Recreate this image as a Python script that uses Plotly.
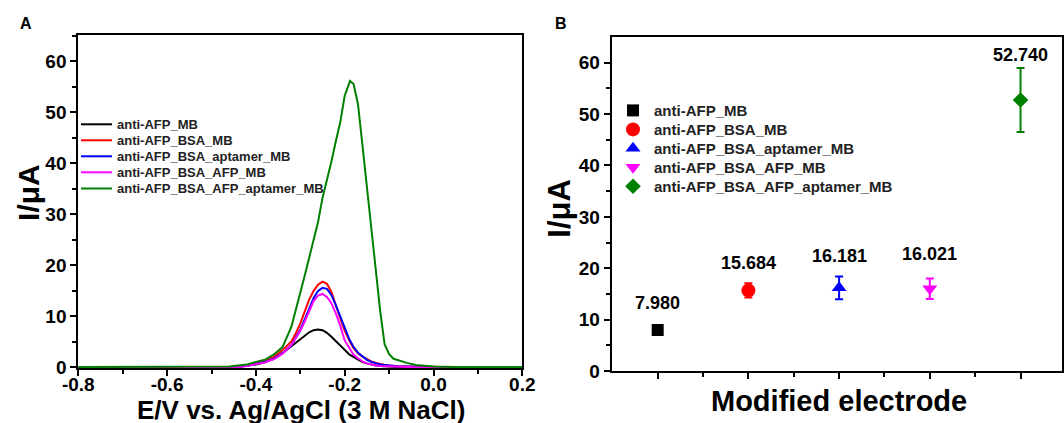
import plotly.graph_objects as go

# ---------------- data: panel A (DPV curves) ----------------
potential_V = [-0.80, -0.70, -0.60, -0.50, -0.46, -0.44, -0.42, -0.40, -0.38, -0.36,
               -0.34, -0.32, -0.31, -0.30, -0.29, -0.28, -0.27, -0.26, -0.25, -0.24,
               -0.23, -0.22, -0.21, -0.20, -0.19, -0.188, -0.18, -0.17, -0.16, -0.15,
               -0.14, -0.13, -0.12, -0.11, -0.10, -0.09, -0.08, -0.06, -0.04, -0.02,
               0.00, 0.05, 0.10, 0.15, 0.20]

i_anti_AFP_MB = [0.0, 0.0, 0.0, 0.0, 0.05, 0.15, 0.35, 0.6, 1.0, 1.8,
                 2.8, 4.2, 4.9, 5.6, 6.3, 6.9, 7.3, 7.45, 7.3, 6.8,
                 6.0, 5.1, 4.2, 3.3, 2.6, 2.45, 2.0, 1.45, 1.05, 0.8,
                 0.55, 0.4, 0.3, 0.22, 0.17, 0.12, 0.1, 0.07, 0.05, 0.05,
                 0.05, 0.05, 0.05, 0.05, 0.05]

i_anti_AFP_BSA_MB = [0.0, 0.0, 0.0, 0.0, 0.05, 0.15, 0.45, 0.8, 1.3, 2.0,
                     3.4, 5.1, 6.7, 8.6, 11.0, 13.3, 15.0, 16.2, 16.8, 16.4,
                     14.8, 12.0, 9.6, 7.2, 5.3, 5.0, 3.8, 2.8, 2.1, 1.6,
                     1.2, 0.9, 0.67, 0.5, 0.4, 0.3, 0.25, 0.2, 0.15, 0.1,
                     0.1, 0.05, 0.05, 0.05, 0.05]

i_anti_AFP_BSA_aptamer_MB = [0.0, 0.0, 0.0, 0.0, 0.03, 0.1, 0.35, 0.7, 1.1, 1.7,
                             2.8, 4.4, 5.8, 7.4, 9.4, 11.6, 13.6, 15.0, 15.6, 15.4,
                             14.2, 12.2, 9.9, 7.6, 5.6, 5.3, 4.0, 2.9, 2.1, 1.5,
                             1.1, 0.8, 0.6, 0.5, 0.4, 0.3, 0.25, 0.2, 0.15, 0.1,
                             0.1, 0.05, 0.05, 0.05, 0.05]

i_anti_AFP_BSA_AFP_MB = [0.0, 0.0, 0.0, 0.0, 0.03, 0.1, 0.3, 0.6, 1.0, 1.6,
                         2.7, 4.4, 5.7, 7.2, 9.0, 11.2, 13.0, 14.1, 14.4, 13.8,
                         12.6, 10.6, 8.2, 5.3, 3.8, 3.5, 2.5, 1.8, 1.2, 0.8,
                         0.55, 0.4, 0.3, 0.25, 0.2, 0.15, 0.1, 0.1, 0.05, 0.05,
                         0.05, 0.05, 0.05, 0.05, 0.05]

i_anti_AFP_BSA_AFP_aptamer_MB = [0.1, 0.1, 0.1, 0.1, 0.2, 0.4, 0.6, 1.1, 1.5, 2.5,
                                 4.0, 8.0, 11.2, 14.8, 18.0, 21.5, 25.1, 28.5, 33.2, 36.6,
                                 40.3, 44.3, 48.0, 53.2, 55.7, 56.1, 55.5, 51.5, 43.5, 35.2,
                                 26.8, 19.3, 11.0, 4.5, 2.6, 1.7, 1.4, 0.9, 0.5, 0.35,
                                 0.2, 0.1, 0.1, 0.1, 0.1]

series_names = ["anti-AFP_MB", "anti-AFP_BSA_MB", "anti-AFP_BSA_aptamer_MB",
                "anti-AFP_BSA_AFP_MB", "anti-AFP_BSA_AFP_aptamer_MB"]
curves = [i_anti_AFP_MB, i_anti_AFP_BSA_MB, i_anti_AFP_BSA_aptamer_MB,
          i_anti_AFP_BSA_AFP_MB, i_anti_AFP_BSA_AFP_aptamer_MB]

xA_tickvals = [-0.8, -0.6, -0.4, -0.2, 0.0, 0.2]
xA_ticktext = ["-0.8", "-0.6", "-0.4", "-0.2", "0.0", "0.2"]

# ---------------- data: panel B (peak currents) ----------------
peak_current = [7.980, 15.684, 16.181, 16.021, 52.740]
peak_error = [0.5, 1.4, 2.2, 2.0, 6.25]

# ---------------- styles ----------------
colors = ["#000000", "#FF0000", "#0000FF", "#FF00FF", "#008000"]
symbols = ["square", "circle", "triangle-up", "triangle-down", "diamond"]
marker_sizes = [12, 14, 13, 13, 12]
label_gap = [4.8, 3.9, 4.0, 4.7, 2.6]

FONT = "Liberation Sans, Arial, sans-serif"
W, H = 1064, 423

# legend layout (pixel positions in the page)
legA_rows = [124.3, 140.3, 156.3, 172.3, 188.5]
legA_line = (81.0, 112.0)
legA_text_x = 114.5
legB_rows = [110.4, 129.4, 148.2, 167.2, 186.3]
legB_marker_x = 633.0
legB_text_x = 652.0

fig = go.Figure()

for name, y, c in zip(series_names, curves, colors):
    fig.add_trace(go.Scatter(x=potential_V, y=y, mode="lines", name=name,
                             line=dict(color=c, width=2), xaxis="x", yaxis="y",
                             showlegend=False))

for i, (name, v, e) in enumerate(zip(series_names, peak_current, peak_error)):
    fig.add_trace(go.Scatter(x=[i + 1], y=[v], mode="markers", name=name,
                             marker=dict(color=colors[i], symbol=symbols[i], opacity=1,
                                         size=marker_sizes[i], line=dict(width=0)),
                             error_y=dict(type="data", array=[e], color=colors[i],
                                          thickness=2, width=4),
                             xaxis="x2", yaxis="y2", showlegend=False))
    fig.add_annotation(x=i + 1, y=v + e + label_gap[i], xref="x2", yref="y2",
                       text="<b>%.3f</b>" % v, showarrow=False,
                       font=dict(size=18, color="black", family=FONT),
                       xanchor="center", yanchor="middle")

# ---- legend keys drawn on a pixel-space overlay axis ----
fig.add_trace(go.Scatter(x=[legB_marker_x] * 5, y=legB_rows, mode="markers",
                         marker=dict(color=colors, symbol=symbols, size=marker_sizes,
                                     opacity=1, line=dict(width=0)),
                         xaxis="x3", yaxis="y3", showlegend=False, hoverinfo="skip"))
for i, name in enumerate(series_names):
    fig.add_shape(type="line", xref="x3", yref="y3",
                  x0=legA_line[0], x1=legA_line[1], y0=legA_rows[i], y1=legA_rows[i],
                  line=dict(color=colors[i], width=2))
    fig.add_annotation(x=legA_text_x, y=legA_rows[i], xref="x3", yref="y3",
                       text="<b>%s</b>" % name, showarrow=False,
                       font=dict(size=13, color="#222222", family=FONT),
                       xanchor="left", yanchor="middle")
    fig.add_annotation(x=legB_text_x, y=legB_rows[i], xref="x3", yref="y3",
                       text="<b>%s</b>" % name, showarrow=False,
                       font=dict(size=15, color="#222222", family=FONT),
                       xanchor="left", yanchor="middle")

axis_common = dict(showline=True, linewidth=2, linecolor="black", mirror=True,
                   ticks="outside", ticklen=6, tickwidth=2, tickcolor="black",
                   showgrid=False, zeroline=False, automargin=False,
                   tickfont=dict(size=19, color="black", family=FONT, weight="bold"))

fig.update_layout(
    width=W, height=H, margin=dict(l=0, r=0, t=0, b=0, autoexpand=False),
    paper_bgcolor="white", plot_bgcolor="rgba(0,0,0,0)",
    font=dict(family=FONT, color="black"),
    showlegend=False,
    xaxis=dict(domain=[78.3 / W, 522.3 / W], range=[-0.8, 0.2],
               tickvals=xA_tickvals, ticktext=xA_ticktext, ticklabelstandoff=-8,
               minor=dict(ticks="outside", ticklen=4, tickwidth=2, tickcolor="black",
                          tickvals=[-0.7, -0.5, -0.3, -0.1, 0.1]),
               anchor="y", **axis_common),
    yaxis=dict(domain=[1 - 368 / H, 1 - 35 / H], range=[-0.1, 65.1],
               tickvals=[0, 10, 20, 30, 40, 50, 60],
               minor=dict(ticks="outside", ticklen=4, tickwidth=2, tickcolor="black",
                          tickvals=[5, 15, 25, 35, 45, 55, 65]),
               anchor="x", **axis_common),
    xaxis2=dict(domain=[611.7 / W, 1061.7 / W], range=[0.493, 5.454],
                tickvals=[1, 2, 3, 4, 5], showticklabels=False,
                minor=dict(ticks="outside", ticklen=4, tickwidth=2, tickcolor="black",
                           tickvals=[1.5, 2.5, 3.5, 4.5]),
                anchor="y2", **axis_common),
    yaxis2=dict(domain=[1 - 371 / H, 1 - 37 / H], range=[0, 65],
                tickvals=[0, 10, 20, 30, 40, 50, 60],
                minor=dict(ticks="outside", ticklen=4, tickwidth=2, tickcolor="black",
                           tickvals=[5, 15, 25, 35, 45, 55]),
                anchor="x2", **axis_common),
    xaxis3=dict(domain=[0, 1], range=[0, W], visible=False, fixedrange=True,
                anchor="y3"),
    yaxis3=dict(domain=[0, 1], range=[H, 0], visible=False, fixedrange=True,
                anchor="x3"),
)

# axis titles and panel letters
fig.add_annotation(x=300.7 / W, y=1 - 409.5 / H, xref="paper", yref="paper",
                   text="<b>E/V vs. Ag/AgCl (3 M NaCl)</b>", showarrow=False,
                   font=dict(size=26, family=FONT, color="black"),
                   xanchor="center", yanchor="middle")
fig.add_annotation(x=28.4 / W, y=1 - 192.5 / H, xref="paper", yref="paper",
                   text="<b>I/μA</b>", showarrow=False, textangle=-90,
                   font=dict(size=30, family=FONT, color="black"),
                   xanchor="center", yanchor="middle")
fig.add_annotation(x=839 / W, y=1 - 401 / H, xref="paper", yref="paper",
                   text="<b>Modified electrode</b>", showarrow=False,
                   font=dict(size=29, family=FONT, color="black"),
                   xanchor="center", yanchor="middle")
fig.add_annotation(x=558.7 / W, y=1 - 208 / H, xref="paper", yref="paper",
                   text="<b>I/μA</b>", showarrow=False, textangle=-90,
                   font=dict(size=31, family=FONT, color="black"),
                   xanchor="center", yanchor="middle")
fig.add_annotation(x=26.4 / W, y=1 - 24 / H, xref="paper", yref="paper",
                   text="<b>A</b>", showarrow=False,
                   font=dict(size=16, family=FONT, color="black"),
                   xanchor="center", yanchor="middle")
fig.add_annotation(x=561 / W, y=1 - 24 / H, xref="paper", yref="paper",
                   text="<b>B</b>", showarrow=False,
                   font=dict(size=16, family=FONT, color="black"),
                   xanchor="center", yanchor="middle")

fig.write_html("out.html", config={"displayModeBar": False},
               post_script="document.body.style.margin='0px';"
                           "document.body.style.overflow='hidden';")
